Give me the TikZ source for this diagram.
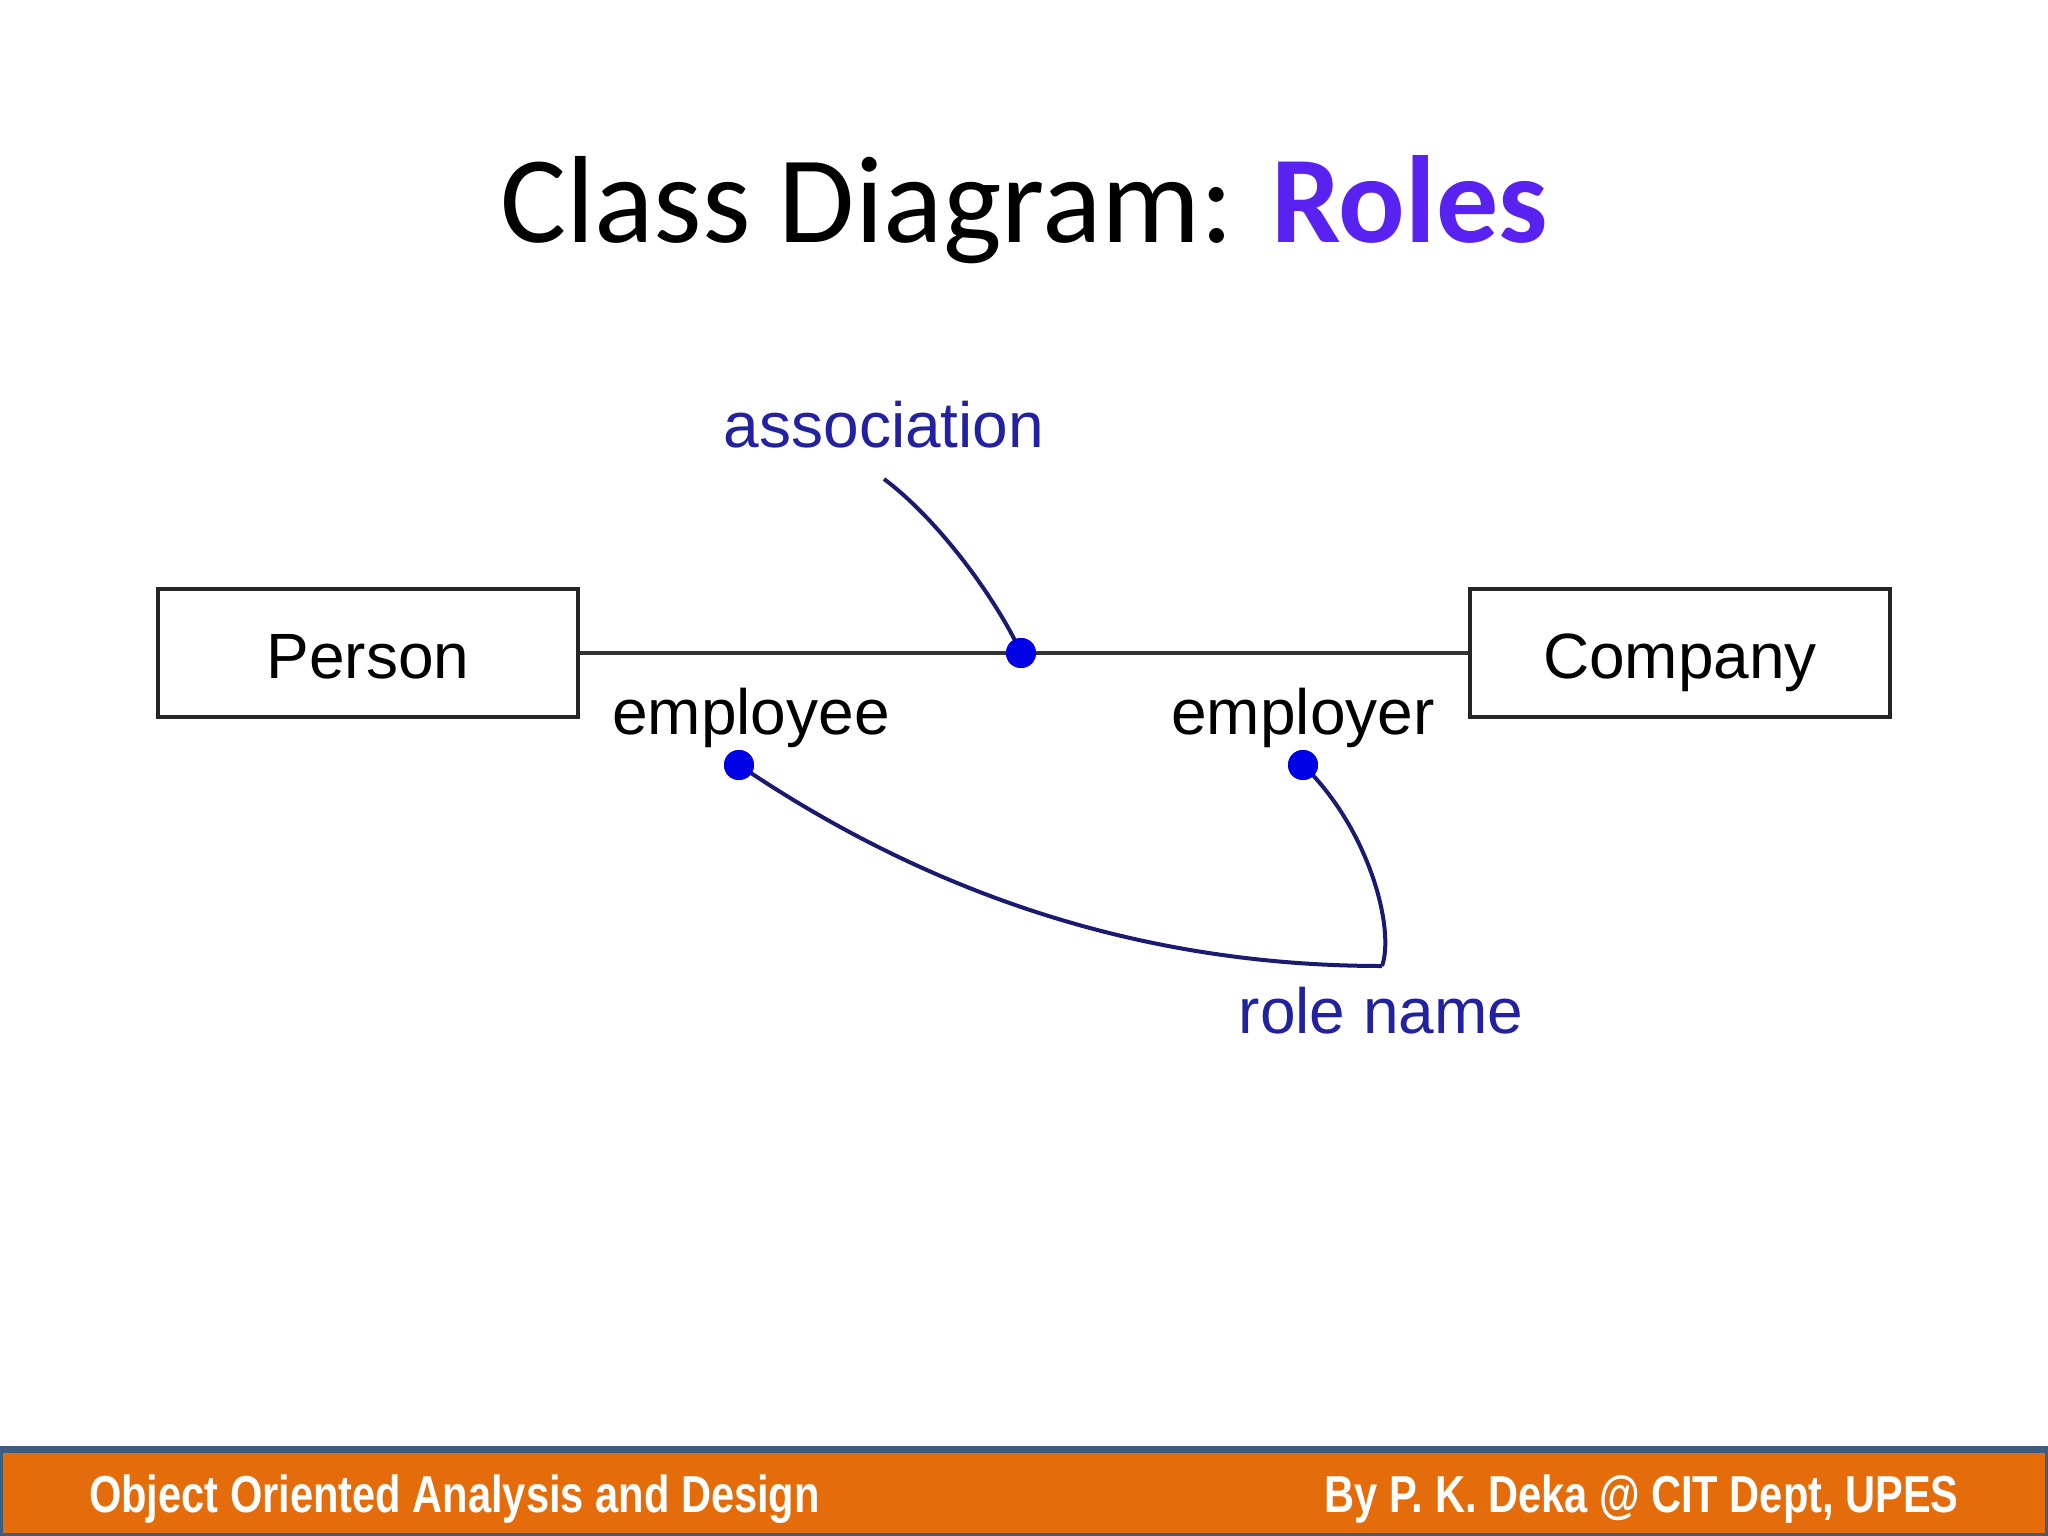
\documentclass[tikz,border=0pt]{standalone}
\usepackage{fontspec}
\setmainfont{Liberation Sans}
\newfontfamily\titlefont{Carlito}
\newfontfamily\footfont[FakeStretch=0.8]{Liberation Sans}
\usetikzlibrary{positioning}
\definecolor{rolescol}{RGB}{90,34,240}
\definecolor{footorange}{RGB}{228,108,10}
\definecolor{footedge}{RGB}{62,92,128}
\definecolor{notecol}{RGB}{34,34,160}
\definecolor{leadcol}{RGB}{26,26,112}
\definecolor{dotcol}{RGB}{0,0,230}
\tikzset{
    classbox/.style={draw=black!85, line width=4pt, fill=white, minimum width=420pt, minimum height=128pt,
        text height=50pt, text depth=0pt, inner sep=0pt, font=\fontsize{64}{70}\selectfont},
    rolelabel/.style={anchor=base, inner sep=0pt, font=\fontsize{64}{70}\selectfont},
    notelabel/.style={rolelabel, text=notecol},
    roledot/.style={circle, fill=dotcol, minimum size=30pt, inner sep=0pt},
    leader/.style={draw=leadcol, line width=4pt},
    footlabel/.style={anchor=base, inner sep=0pt, text=white, font=\footfont\bfseries\fontsize{52}{60}\selectfont}
}
\begin{document}
\begin{tikzpicture}[x=1pt, y=-1pt]
    \useasboundingbox (0,0) rectangle (2048,1536);
    \fill[white] (0,0) rectangle (2048,1536);

    % title
    \node[anchor=base, inner sep=0pt, font=\titlefont\fontsize{124}{140}\selectfont] (title) at (1024,242)
        {Class Diagram: \textcolor{rolescol}{\bfseries Roles}};

    % classes and association
    \node[classbox] (person) at (368,653) {Person};
    \node[classbox] (company) at (1680,653) {Company};
    \draw[line width=4pt, black!80] (person.east) -- (company.west);
    \node[roledot] (assoc) at (1021,653) {};
    \node[roledot] (eedot) at (739,765) {};
    \node[roledot] (erdot) at (1303,765) {};

    % labels
    \node[rolelabel] (employee) at (751,734) {employee};
    \node[rolelabel] (employer) at (1303,734) {employer};
    \node[notelabel] (association) at (884,447) {association};
    \node[notelabel] (rolename) at (1381,1033) {role name};

    % leaders
    \coordinate (assoctail) at (884,479);
    \coordinate (rolejoin) at (1382,966);
    \draw[leader] (assoctail) .. controls (944,524) and (1001,608) .. (assoc.center);
    \draw[leader] (eedot.center) .. controls (960,915) and (1180,966) .. (rolejoin);
    \draw[leader] (erdot.center) .. controls (1370,830) and (1395,930) .. (rolejoin);
    \node[roledot] at (assoc) {};
    \node[roledot] at (eedot) {};
    \node[roledot] at (erdot) {};

    % footer
    \fill[footedge] (0,1446) rectangle (2048,1536);
    \fill[footorange] (3,1453) rectangle (2045,1533);
    \node[footlabel, anchor=base west] (course) at (89,1512) {Object Oriented Analysis and Design};
    \node[footlabel, anchor=base east] (author) at (1959,1512) {By P. K. Deka @ CIT Dept, UPES};
\end{tikzpicture}
\end{document}
